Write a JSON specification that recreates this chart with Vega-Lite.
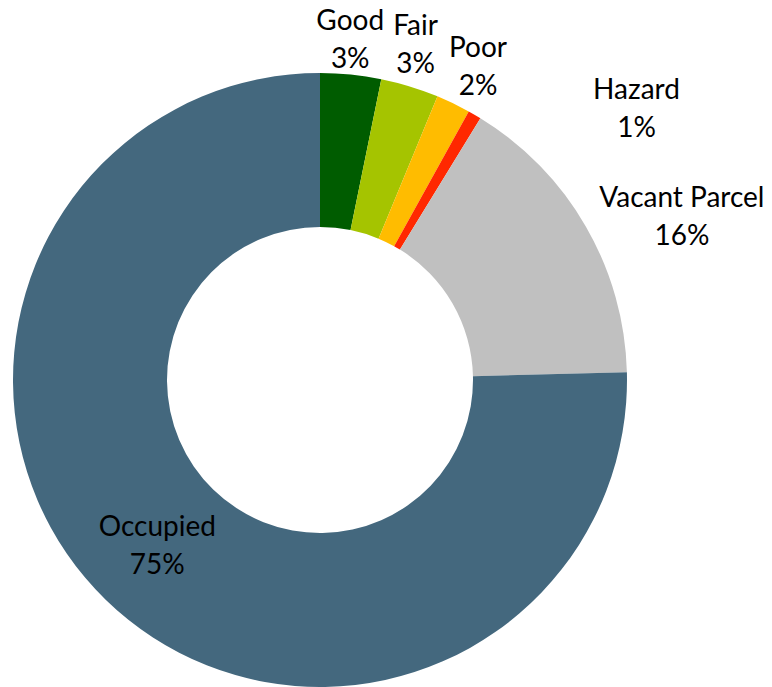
{
  "$schema": "https://vega.github.io/schema/vega-lite/v6.json",
  "width": 640,
  "height": 614,
  "autosize": {"type": "none"},
  "padding": {"left": 0, "top": 73, "right": 132, "bottom": 0},
  "background": "white",
  "config": {"view": {"stroke": null}},
  "data": {
    "values": [
      {"category": "Good", "value": 0.032, "idx": 1},
      {"category": "Fair", "value": 0.0305, "idx": 2},
      {"category": "Poor", "value": 0.018, "idx": 3},
      {"category": "Hazard", "value": 0.007, "idx": 4},
      {"category": "Vacant Parcel", "value": 0.1585, "idx": 5},
      {"category": "Occupied", "value": 0.754, "idx": 6}
    ]
  },
  "encoding": {
    "theta": {"field": "value", "type": "quantitative", "stack": true},
    "order": {"field": "idx", "type": "quantitative", "sort": "ascending"}
  },
  "layer": [
    {
      "mark": {"type": "arc", "outerRadius": 307, "innerRadius": 153},
      "encoding": {
        "color": {
          "field": "category",
          "type": "nominal",
          "scale": {
            "domain": ["Good", "Fair", "Poor", "Hazard", "Vacant Parcel", "Occupied"],
            "range": ["#005C00", "#A5C400", "#FFBC00", "#FF2800", "#C0C0C0", "#44687E"]
          },
          "legend": null
        }
      }
    },
    {
      "mark": {"type": "text", "radius": 341, "dx": -4, "dy": -19, "font": "Lato", "fontSize": 28, "fill": "black"},
      "encoding": {"text": {"condition": {"test": "datum.category === 'Good'", "field": "category", "type": "nominal"}, "value": ""}}
    },
    {
      "mark": {"type": "text", "radius": 341, "dx": -4, "dy": 19, "font": "Lato", "fontSize": 28, "fill": "black"},
      "encoding": {"text": {"condition": {"test": "datum.category === 'Good'", "field": "value", "type": "quantitative", "format": ".0%"}, "value": ""}}
    },
    {
      "mark": {"type": "text", "radius": 347, "dx": -6, "dy": -21, "font": "Lato", "fontSize": 28, "fill": "black"},
      "encoding": {"text": {"condition": {"test": "datum.category === 'Fair'", "field": "category", "type": "nominal"}, "value": ""}}
    },
    {
      "mark": {"type": "text", "radius": 347, "dx": -6, "dy": 17, "font": "Lato", "fontSize": 28, "fill": "black"},
      "encoding": {"text": {"condition": {"test": "datum.category === 'Fair'", "field": "value", "type": "quantitative", "format": ".0%"}, "value": ""}}
    },
    {
      "mark": {"type": "text", "radius": 350, "dx": 6, "dy": -16, "font": "Lato", "fontSize": 28, "fill": "black"},
      "encoding": {"text": {"condition": {"test": "datum.category === 'Poor'", "field": "category", "type": "nominal"}, "value": ""}}
    },
    {
      "mark": {"type": "text", "radius": 350, "dx": 6, "dy": 22, "font": "Lato", "fontSize": 28, "fill": "black"},
      "encoding": {"text": {"condition": {"test": "datum.category === 'Poor'", "field": "value", "type": "quantitative", "format": ".0%"}, "value": ""}}
    },
    {
      "mark": {"type": "text", "radius": 416, "dx": 107, "dy": 70, "font": "Lato", "fontSize": 28, "fill": "black"},
      "encoding": {"text": {"condition": {"test": "datum.category === 'Hazard'", "field": "category", "type": "nominal"}, "value": ""}}
    },
    {
      "mark": {"type": "text", "radius": 416, "dx": 107, "dy": 108, "font": "Lato", "fontSize": 28, "fill": "black"},
      "encoding": {"text": {"condition": {"test": "datum.category === 'Hazard'", "field": "value", "type": "quantitative", "format": ".0%"}, "value": ""}}
    },
    {
      "mark": {"type": "text", "radius": 397, "dx": 18, "dy": 17, "font": "Lato", "fontSize": 28, "fill": "black"},
      "encoding": {"text": {"condition": {"test": "datum.category === 'Vacant Parcel'", "field": "category", "type": "nominal"}, "value": ""}}
    },
    {
      "mark": {"type": "text", "radius": 397, "dx": 18, "dy": 55, "font": "Lato", "fontSize": 28, "fill": "black"},
      "encoding": {"text": {"condition": {"test": "datum.category === 'Vacant Parcel'", "field": "value", "type": "quantitative", "format": ".0%"}, "value": ""}}
    },
    {
      "mark": {"type": "text", "radius": 233, "dx": 0, "dy": -19, "font": "Lato", "fontSize": 28, "fill": "black"},
      "encoding": {"text": {"condition": {"test": "datum.category === 'Occupied'", "field": "category", "type": "nominal"}, "value": ""}}
    },
    {
      "mark": {"type": "text", "radius": 233, "dx": 0, "dy": 19, "font": "Lato", "fontSize": 28, "fill": "black"},
      "encoding": {"text": {"condition": {"test": "datum.category === 'Occupied'", "field": "value", "type": "quantitative", "format": ".0%"}, "value": ""}}
    }
  ]
}
